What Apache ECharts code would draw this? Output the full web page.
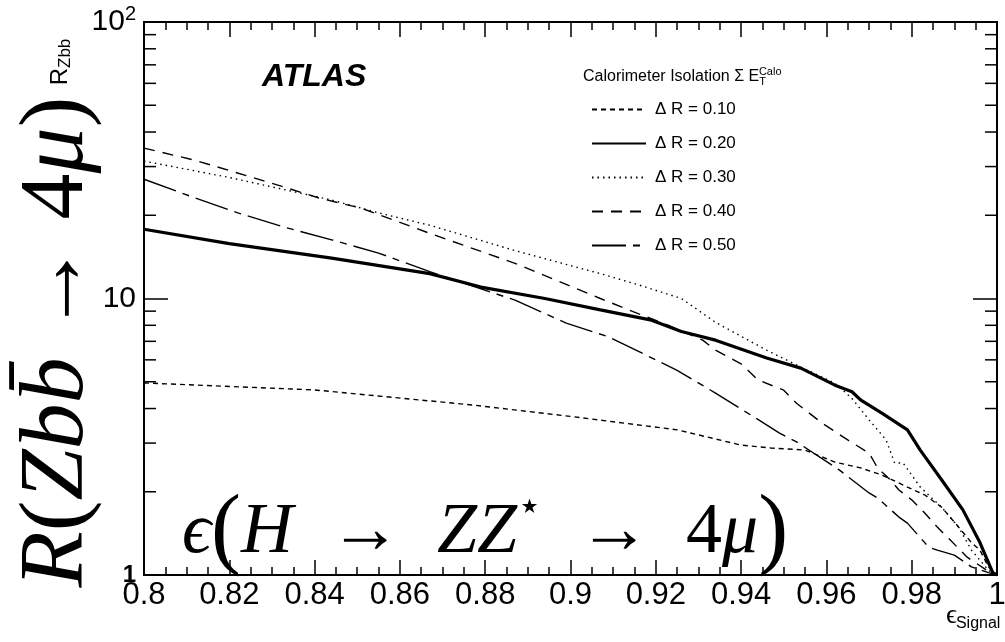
<!DOCTYPE html>
<html>
<head>
<meta charset="utf-8">
<script src="https://cdn.jsdelivr.net/npm/echarts@6/dist/echarts.min.js"></script>
<style>
html, body { margin: 0; padding: 0; background: #fff; }
#chart { width: 1005px; height: 642px; }
</style>
</head>
<body>
<div id="chart"></div>
<script>
// rejection vs signal efficiency, one curve per isolation cone size
const seriesNames = ['\u0394 R = 0.10', '\u0394 R = 0.20', '\u0394 R = 0.30', '\u0394 R = 0.40', '\u0394 R = 0.50']

const dr010 = [
    [0.800, 4.95], [0.840, 4.67], [0.877, 4.12], [0.901, 3.73], [0.925, 3.35], [0.940, 2.95],
    [0.947, 2.88], [0.955, 2.83], [0.962, 2.56], [0.968, 2.44], [0.973, 2.30], [0.979, 2.08],
    [0.983, 1.95], [0.987, 1.76], [0.991, 1.49], [0.994, 1.31], [0.996, 1.23], [0.998, 1.07], [1.0, 1.0]
]
const dr020 = [
    [0.800, 17.8], [0.820, 15.8], [0.844, 14.0], [0.867, 12.3], [0.879, 11.0], [0.894, 10.0],
    [0.907, 9.1], [0.919, 8.35], [0.926, 7.6], [0.934, 7.07], [0.946, 6.09], [0.954, 5.6],
    [0.962, 4.86], [0.966, 4.6], [0.968, 4.3], [0.973, 3.85], [0.979, 3.35], [0.982, 2.83],
    [0.987, 2.21], [0.992, 1.72], [0.996, 1.31], [0.999, 1.02], [1.0, 1.0]
]
const dr030 = [
    [0.800, 31.4], [0.820, 27.4], [0.844, 22.7], [0.855, 20.4], [0.867, 18.4], [0.887, 14.9],
    [0.907, 12.3], [0.916, 11.2], [0.926, 10.0], [0.934, 8.2], [0.946, 6.5], [0.954, 5.65],
    [0.962, 4.94], [0.966, 4.35], [0.970, 3.64], [0.974, 3.08], [0.976, 2.54], [0.978, 2.54],
    [0.982, 2.08], [0.987, 1.76], [0.991, 1.49], [0.994, 1.23], [0.998, 1.04], [1.0, 1.0]
]
const dr040 = [
    [0.800, 35.0], [0.812, 31.6], [0.830, 26.1], [0.841, 23.1], [0.851, 21.2], [0.867, 17.2],
    [0.887, 13.4], [0.907, 10.0], [0.916, 8.8], [0.923, 8.0], [0.931, 7.07], [0.934, 6.5],
    [0.940, 5.8], [0.944, 5.07], [0.950, 4.66], [0.953, 4.18], [0.959, 3.54], [0.965, 3.08],
    [0.970, 2.76], [0.972, 2.44], [0.975, 2.21], [0.977, 2.03], [0.980, 1.87], [0.983, 1.68],
    [0.986, 1.49], [0.989, 1.34], [0.993, 1.16], [0.998, 1.03], [1.0, 1.0]
]
const dr050 = [
    [0.800, 27.0], [0.812, 23.1], [0.822, 20.4], [0.833, 18.1], [0.844, 16.3], [0.855, 14.6],
    [0.867, 12.5], [0.887, 9.86], [0.899, 8.15], [0.909, 7.26], [0.925, 5.5], [0.934, 4.55],
    [0.943, 3.73], [0.949, 3.26], [0.953, 3.03], [0.963, 2.40], [0.970, 1.98], [0.972, 1.90],
    [0.977, 1.62], [0.979, 1.54], [0.984, 1.26], [0.986, 1.23], [0.990, 1.18], [0.994, 1.07],
    [0.998, 1.02], [1.0, 1.0]
]

// log axis minor ticks (ROOT style, at 2..9 of each decade)
const yMinorTicks = [2, 3, 4, 5, 6, 7, 8, 9, 20, 30, 40, 50, 60, 70, 80, 90]

const SANS = "'Liberation Sans', Arial, sans-serif"
const SERIF = "'Liberation Serif', 'DejaVu Serif', serif"

const chart = echarts.init(document.getElementById('chart'))

const lineOf = (name, data, width, dash) => ({
    name: name,
    type: 'line',
    data: data,
    symbol: 'none',
    showSymbol: false,
    lineStyle: { color: '#000', width: width, type: dash },
    itemStyle: { color: '#000' },
    z: 3
})

const xAxisCommon = {
    type: 'value',
    min: 0.8,
    max: 1.0,
    interval: 0.02,
    splitLine: { show: false },
    axisLine: { show: true, lineStyle: { color: '#000', width: 2 } },
    axisTick: { show: true, inside: true, length: 15, lineStyle: { color: '#000', width: 1.5 } },
    minorTick: { show: true, splitNumber: 4, length: 8, lineStyle: { color: '#000', width: 1.5 } }
}
const yAxisCommon = {
    type: 'log',
    logBase: 10,
    min: 1,
    max: 100,
    splitLine: { show: false },
    axisLine: { show: true, lineStyle: { color: '#000', width: 2 } },
    axisTick: { show: true, inside: true, length: 24, lineStyle: { color: '#000', width: 1.5 } }
}

chart.setOption({
    animation: false,
    backgroundColor: '#fff',
    grid: {
        left: 144, right: 8, top: 22, bottom: 67,
        containLabel: false,
        outerBoundsMode: 'none',
        show: true, borderColor: '#000', borderWidth: 2
    },
    xAxis: [
        Object.assign({}, xAxisCommon, {
            position: 'bottom',
            axisLabel: {
                color: '#000', fontSize: 31, fontFamily: SANS, margin: 5,
                formatter: v => String(Math.round(v * 100) / 100)
            }
        }),
        Object.assign({}, xAxisCommon, { position: 'top', axisLabel: { show: false } })
    ],
    yAxis: [
        Object.assign({}, yAxisCommon, {
            position: 'left',
            axisLabel: {
                color: '#000', fontFamily: SANS, margin: 8,
                formatter: v => {
                    const r = Math.round(v)
                    if (r === 100) return '{n|10}{sup|2}'
                    if (r === 10) return '{n|10}'
                    return '{s|1}'
                },
                rich: {
                    n: { fontSize: 30, fontFamily: SANS, color: '#000' },
                    sup: { fontSize: 20, fontFamily: SANS, color: '#000', verticalAlign: 'top', padding: [0, 0, 16, 0] },
                    s: { fontSize: 24, fontFamily: SANS, color: '#000', fontWeight: 'bold' }
                }
            }
        }),
        Object.assign({}, yAxisCommon, { position: 'right', axisLabel: { show: false } })
    ],
    legend: {
        data: seriesNames,
        orient: 'vertical',
        left: 586,
        top: 96,
        itemWidth: 54,
        itemHeight: 14,
        itemGap: 17,
        selectedMode: false,
        itemStyle: { opacity: 0, color: 'rgba(0,0,0,0)', borderWidth: 0 },
        textStyle: { color: '#000', fontSize: 17, fontFamily: SANS, padding: [0, 0, 0, 4] }
    },
    series: [
        lineOf(seriesNames[0], dr010, 1.4, [5, 4]),
        lineOf(seriesNames[1], dr020, 3.2, 'solid'),
        lineOf(seriesNames[2], dr030, 1.4, [1.5, 4]),
        lineOf(seriesNames[3], dr040, 1.4, [11, 8]),
        lineOf(seriesNames[4], dr050, 1.4, [34, 7, 7, 7]),
        {
            type: 'custom',
            name: 'minorTicks',
            data: yMinorTicks.map(v => [1.0, v]),
            encode: { x: 0, y: 1 },
            silent: true,
            z: 4,
            renderItem: (params, api) => {
                const v = api.value(1)
                const l = api.coord([0.8, v])
                const r = api.coord([1.0, v])
                const st = { stroke: '#000', lineWidth: 1.5 }
                return {
                    type: 'group',
                    children: [
                        { type: 'line', shape: { x1: l[0], y1: l[1], x2: l[0] + 12, y2: l[1] }, style: st },
                        { type: 'line', shape: { x1: r[0] - 12, y1: r[1], x2: r[0], y2: r[1] }, style: st }
                    ]
                }
            }
        }
    ],
    graphic: [
        {
            type: 'text', left: 262, top: 61,
            style: { text: 'ATLAS', fill: '#000', font: 'italic bold 32px ' + SANS }
        },
        {
            type: 'text', left: 583, top: 66,
            style: {
                text: '{a|Calorimeter Isolation \u03a3 E}{b|T}{c|Calo}',
                rich: {
                    a: { fontSize: 16, fontFamily: SANS, color: '#000' },
                    b: { fontSize: 11, fontFamily: SANS, color: '#000', verticalAlign: 'bottom', padding: [8, 0, 0, 0] },
                    c: { fontSize: 11, fontFamily: SANS, color: '#000', verticalAlign: 'top', padding: [0, 0, 10, -7] }
                }
            }
        },
        {
            type: 'text', x: 58, y: 342, rotation: Math.PI / 2,
            style: {
                text: '{i|R}{p|(}{i|Zbb\u0304}{n| \u2192 4}{i|\u03bc}{p|)}',
                align: 'center', verticalAlign: 'middle',
                rich: {
                    i: { fontSize: 92, fontFamily: SERIF, fontStyle: 'italic', color: '#000' },
                    n: { fontSize: 92, fontFamily: SERIF, color: '#000' },
                    p: { fontSize: 92, fontFamily: SERIF, color: '#000' }
                }
            }
        },
        {
            type: 'text', x: 60, y: 62, rotation: Math.PI / 2,
            style: {
                text: '{a|R}{b|Zbb}',
                align: 'center', verticalAlign: 'middle',
                rich: {
                    a: { fontSize: 24, fontFamily: SANS, color: '#000' },
                    b: { fontSize: 17, fontFamily: SANS, color: '#000', verticalAlign: 'bottom', padding: [10, 0, 0, 0] }
                }
            }
        },
        {
            type: 'text', left: 182, top: 488,
            style: {
                text: '{i|\u03f5}{p|(}{i|H}{n|  \u2192  }{i|ZZ}{s|\u22c6}{n|  \u2192  4}{i|\u03bc}{p|)}',
                rich: {
                    i: { fontSize: 72, fontFamily: SERIF, fontStyle: 'italic', color: '#000' },
                    n: { fontSize: 72, fontFamily: SERIF, color: '#000' },
                    p: { fontSize: 90, fontFamily: SERIF, color: '#000' },
                    s: { fontSize: 40, fontFamily: SERIF, color: '#000', verticalAlign: 'top', padding: [0, 0, 34, 0] }
                }
            }
        },
        {
            type: 'text', left: 946, top: 602,
            style: {
                text: '{a|\u03f5}{b|Signal}',
                rich: {
                    a: { fontSize: 27, fontFamily: SERIF, color: '#000' },
                    b: { fontSize: 16, fontFamily: SANS, color: '#000', verticalAlign: 'bottom', padding: [16, 0, 0, -1] }
                }
            }
        }
    ]
})
</script>
</body>
</html>
